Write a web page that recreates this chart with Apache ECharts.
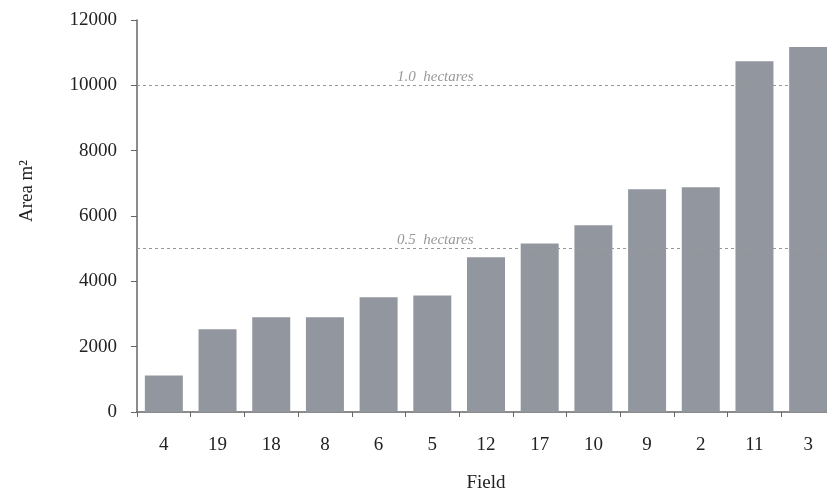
<!DOCTYPE html>
<html>
<head>
<meta charset="utf-8">
<script src="https://cdn.jsdelivr.net/npm/echarts@6/dist/echarts.min.js"></script>
<style>
html,body{margin:0;padding:0;background:#fff;}
#chart{width:827px;height:490px;}
</style>
</head>
<body>
<div id="chart"></div>
<script>
const fields = ['4','19','18','8','6','5','12','17','10','9','2','11','3'];
const areas = [1120, 2530, 2900, 2900, 3510, 3570, 4740, 5160, 5720, 6820, 6880, 10740, 11170];
const refValues = [5000, 10000];
const refLabels = ['0.5  hectares', '1.0  hectares'];
const yTicks = { min: 0, max: 12000, interval: 2000 };

const chart = echarts.init(document.getElementById('chart'));
const serif = '"Liberation Serif", "DejaVu Serif", serif';
chart.setOption({
  animation: false,
  backgroundColor: '#ffffff',
  grid: { left: 137, width: 698, top: 20, height: 392, containLabel: false, outerBoundsMode: 'none' },
  xAxis: {
    type: 'category',
    data: fields,
    name: 'Field',
    nameLocation: 'middle',
    nameGap: 62,
    nameTextStyle: { fontFamily: serif, fontSize: 19, color: '#222' },
    axisLine: { lineStyle: { color: '#666', width: 1.5 } },
    axisTick: { show: true, length: 5, lineStyle: { color: '#666' } },
    axisLabel: { fontFamily: serif, fontSize: 19, color: '#222', margin: 24 }
  },
  yAxis: {
    type: 'value',
    min: yTicks.min, max: yTicks.max, interval: yTicks.interval,
    name: 'Area m²',
    nameLocation: 'middle',
    nameGap: 100,
    nameTextStyle: { fontFamily: serif, fontSize: 19, color: '#222', padding: [0, 0, 0, 50] },
    axisLine: { show: true, lineStyle: { color: '#666', width: 1.5 } },
    axisTick: { show: true, length: 6, lineStyle: { color: '#666' } },
    splitLine: { show: false },
    axisLabel: { fontFamily: serif, fontSize: 19, color: '#222', margin: 20, formatter: v => String(v) }
  },
  series: [{
    type: 'bar',
    data: areas,
    barWidth: 38,
    itemStyle: { color: '#92979f' },
    markLine: {
      silent: true,
      symbol: 'none',
      lineStyle: { color: '#999', type: [3, 3], width: 1 },
      label: {
        position: 'insideStartTop',
        distance: [260, 1],
        fontFamily: serif,
        fontStyle: 'italic',
        fontSize: 15,
        color: '#999'
      },
      data: refValues.map((v, i) => ({ yAxis: v, label: { formatter: refLabels[i] } }))
    }
  }]
});
</script>
</body>
</html>
